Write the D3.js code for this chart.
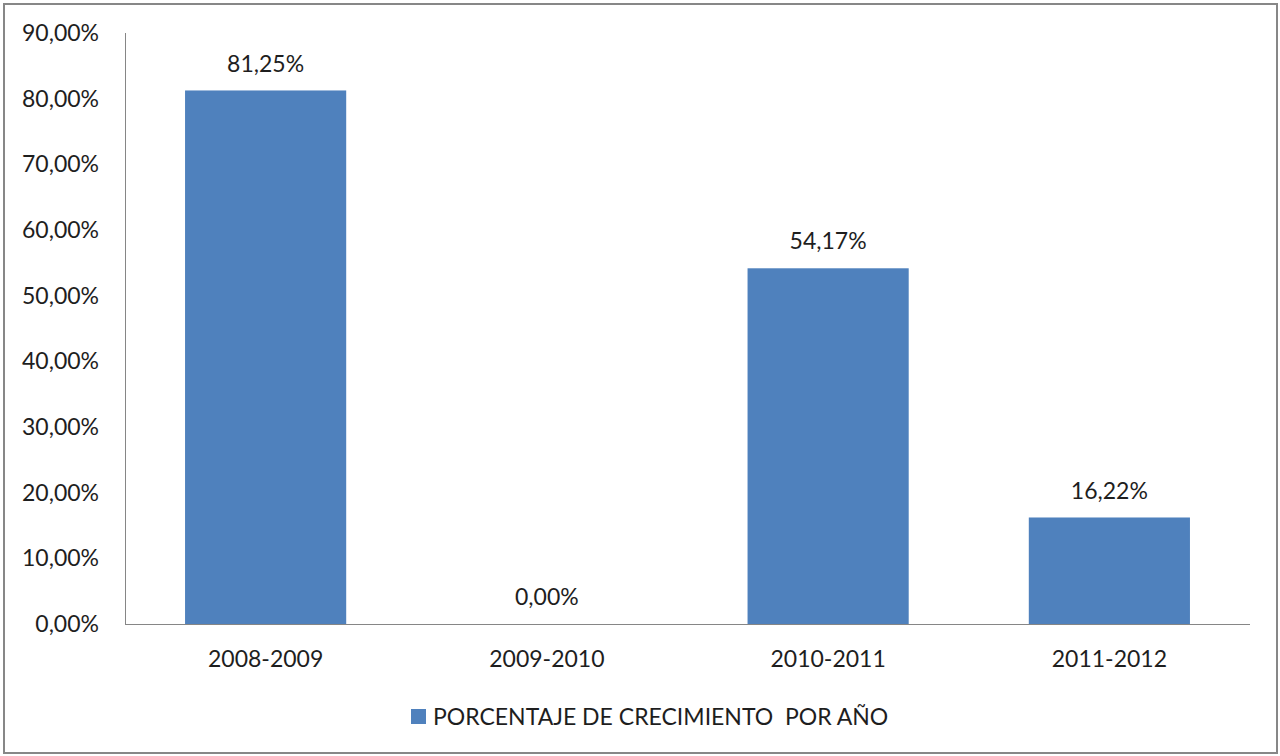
<!DOCTYPE html>
<html><head><meta charset="utf-8">
<script src="https://cdn.jsdelivr.net/npm/d3@7"></script>
<style>body{margin:0;background:#fff}svg{display:block}text{font-family:Lato,"Open Sans",sans-serif;fill:#1e1e1e}</style>
</head><body><svg id="c" width="1280" height="756"></svg>
<script>
const categories = ["2008-2009","2009-2010","2010-2011","2011-2012"];
const values = [81.25, 0.00, 54.17, 16.22];
const yTicks = [0,10,20,30,40,50,60,70,80,90];
const seriesName = "PORCENTAJE DE CRECIMIENTO  POR AÑO";

const svg = d3.select("#c");
const fmt = v => v.toFixed(2).replace(".", ",") + "%";
const fs = 23;

svg.append("rect").attr("x",4).attr("y",4).attr("width",1273).attr("height",749)
  .attr("fill","#fff").attr("stroke","#878787").attr("stroke-width",2);

const x = d3.scaleBand().domain(categories).range([125,1250]).paddingInner(0.427).paddingOuter(0.2135);
const y = d3.scaleLinear().domain([0,90]).range([624,33]);

svg.selectAll("rect.bar").data(values).join("rect").attr("class","bar")
  .attr("x",(d,i)=>x(categories[i])).attr("width",x.bandwidth())
  .attr("y",d=>y(d)).attr("height",d=>y(0)-y(d)).attr("fill","#4F81BD");

// axes
svg.append("line").attr("x1",125.5).attr("x2",125.5).attr("y1",33).attr("y2",624).attr("stroke","#868686");
svg.append("line").attr("x1",125).attr("x2",1250).attr("y1",624.5).attr("y2",624.5).attr("stroke","#868686");

svg.selectAll("text.yt").data(yTicks).join("text").attr("class","yt")
  .attr("x",99).attr("y",d=>y(d)).attr("dy","0.35em").attr("text-anchor","end")
  .attr("font-size",fs).text(d=>fmt(d));

svg.selectAll("text.xt").data(categories).join("text").attr("class","xt")
  .attr("x",d=>x(d)+x.bandwidth()/2).attr("y",659).attr("dy","0.35em").attr("text-anchor","middle")
  .attr("font-size",fs).text(d=>d);

svg.selectAll("text.lbl").data(values).join("text").attr("class","lbl")
  .attr("x",(d,i)=>x(categories[i])+x.bandwidth()/2).attr("y",d=>y(d)-27).attr("dy","0.35em")
  .attr("text-anchor","middle").attr("font-size",fs).text(d=>fmt(d));

// legend
svg.append("rect").attr("x",411).attr("y",709).attr("width",15).attr("height",15).attr("fill","#4F81BD");
svg.append("text").attr("x",433).attr("y",716.5).attr("dy","0.35em").attr("font-size",fs)
  .style("white-space","pre").text(seriesName);
</script></body></html>
